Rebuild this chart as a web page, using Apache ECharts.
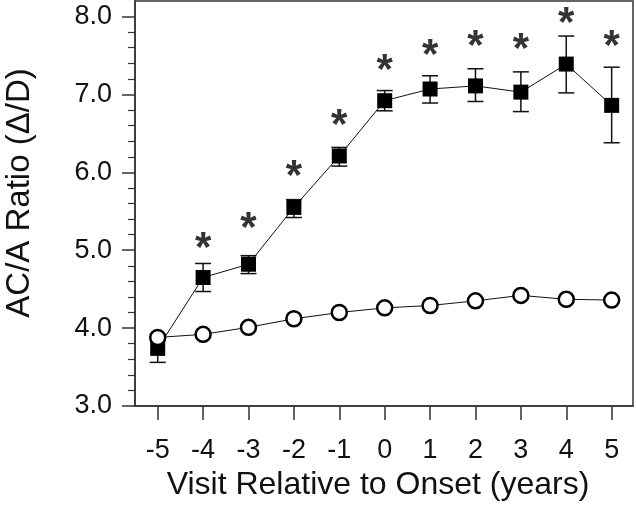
<!DOCTYPE html>
<html><head><meta charset="utf-8">
<script src="https://cdn.jsdelivr.net/npm/echarts@6/dist/echarts.min.js"></script>
<style>html,body{margin:0;padding:0;background:#fff}#c{width:636px;height:506px}</style>
</head><body><div id="c"></div>
<script>
// ---- data ----
const visits = [-5, -4, -3, -2, -1, 0, 1, 2, 3, 4, 5];
const yTickValues = [3, 4, 5, 6, 7, 8];
// converters (filled squares): mean and error bar ends
const convMean = [3.74, 4.65, 4.82, 5.55, 6.21, 6.92, 7.07, 7.11, 7.03, 7.39, 6.86];
const convLow  = [3.56, 4.47, 4.70, 5.42, 6.08, 6.79, 6.89, 6.91, 6.78, 7.02, 6.38];
const convHigh = [3.92, 4.83, 4.93, 5.65, 6.32, 7.05, 7.24, 7.33, 7.29, 7.75, 7.35];
// non-converters (open circles)
const nonMean = [3.88, 3.92, 4.01, 4.12, 4.20, 4.26, 4.29, 4.35, 4.42, 4.37, 4.36];
const nonLow  = [3.79, 3.83, 3.92, 4.03, 4.11, 4.17, 4.20, 4.26, 4.33, 4.28, 4.27];
const nonHigh = [3.97, 4.01, 4.10, 4.21, 4.29, 4.35, 4.38, 4.44, 4.51, 4.46, 4.45];
// significance asterisks (y position in data units)
const starY = [null, 5.14, 5.39, 6.06, 6.72, 7.43, 7.62, 7.73, 7.69, 8.03, 7.73];
const xTitle = 'Visit Relative to Onset (years)';
const yTitle = 'AC/A Ratio (\u0394/D)';

// minor tick values between the major ticks (every 0.2)
const minorTicks = [];
for (let i = 0; i < yTickValues.length - 1; i++) {
  for (let k = 1; k < 5; k++) minorTicks.push(+(yTickValues[i] + k * 0.2).toFixed(1));
}

const FONT = '"Liberation Sans", Arial, Helvetica, sans-serif';
const INK = '#111';
const FRAME = '#333';

function errData(lo, hi) { return visits.map((v, i) => [v, lo[i], hi[i]]); }
function errRender(capW, lw) {
  return function (params, api) {
    const x = api.value(0);
    const p1 = api.coord([x, api.value(1)]);
    const p2 = api.coord([x, api.value(2)]);
    const st = { stroke: INK, lineWidth: lw };
    return {
      type: 'group',
      children: [
        { type: 'line', shape: { x1: p1[0], y1: p1[1], x2: p2[0], y2: p2[1] }, style: st },
        { type: 'line', shape: { x1: p1[0] - capW / 2, y1: p1[1], x2: p1[0] + capW / 2, y2: p1[1] }, style: st },
        { type: 'line', shape: { x1: p2[0] - capW / 2, y1: p2[1], x2: p2[0] + capW / 2, y2: p2[1] }, style: st }
      ]
    };
  };
}

const chart = echarts.init(document.getElementById('c'), null, { renderer: 'canvas' });
chart.setOption({
  animation: false,
  backgroundColor: '#fff',
  grid: { left: 135, top: 1, right: 3, bottom: 100, show: true, borderColor: FRAME, borderWidth: 1.5, backgroundColor: 'transparent' },
  xAxis: {
    type: 'value', min: -5.5, max: 5.47,
    axisLine: { onZero: false, lineStyle: { color: FRAME, width: 1.5 } },
    axisTick: { customValues: visits, length: 14, lineStyle: { color: FRAME, width: 1.5 } },
    axisLabel: { customValues: visits, fontSize: 27, fontFamily: FONT, color: INK, margin: 31 },
    splitLine: { show: false }
  },
  yAxis: [{
    type: 'value', min: 3, max: 8.2, position: 'left',
    axisLine: { show: true, onZero: false, lineStyle: { color: FRAME, width: 1.5 } },
    axisTick: { show: true, customValues: yTickValues, length: 13, lineStyle: { color: FRAME, width: 1.5 } },
    axisLabel: { customValues: yTickValues, formatter: v => Number(v).toFixed(1), fontSize: 27, fontFamily: FONT, color: INK, margin: 23 },
    splitLine: { show: false }
  }, {
    type: 'value', min: 3, max: 8.2, position: 'left',
    axisLine: { show: false, onZero: false },
    axisTick: { show: true, customValues: minorTicks, length: 7, lineStyle: { color: FRAME, width: 1.2 } },
    axisLabel: { show: false },
    splitLine: { show: false }
  }],
  graphic: [
    { type: 'text', x: 20, y: 193, rotation: Math.PI / 2, style: { text: yTitle, font: '33px ' + FONT, fill: INK, align: 'center', verticalAlign: 'middle' } },
    { type: 'text', x: 378, y: 485, style: { text: xTitle, font: '32px ' + FONT, fill: INK, align: 'center', verticalAlign: 'middle' } }
  ],
  series: [
    { type: 'custom', z: 1, renderItem: errRender(16, 1.5), data: errData(convLow, convHigh), encode: { x: 0, y: [1, 2] } },
    { type: 'line', z: 2, data: visits.map((v, i) => [v, convMean[i]]), symbol: 'rect', symbolSize: 15,
      lineStyle: { color: INK, width: 1 }, itemStyle: { color: '#000', borderColor: '#000', borderWidth: 0 } },
    { type: 'custom', z: 3, renderItem: errRender(8, 1.5), data: errData(nonLow, nonHigh), encode: { x: 0, y: [1, 2] } },
    { type: 'line', z: 4, data: visits.map((v, i) => [v, nonMean[i]]), symbol: 'circle', symbolSize: 15,
      lineStyle: { color: INK, width: 1 }, itemStyle: { color: '#fff', borderColor: '#000', borderWidth: 2.5 } },
    { type: 'scatter', z: 5, symbolSize: 0, data: visits.map((v, i) => [v, starY[i]]).filter(d => d[1] != null),
      label: { show: true, position: 'inside', formatter: '*', fontSize: 42, fontWeight: 'bold', fontFamily: FONT, color: '#000', offset: [0, 10] } }
  ]
});
</script></body></html>
